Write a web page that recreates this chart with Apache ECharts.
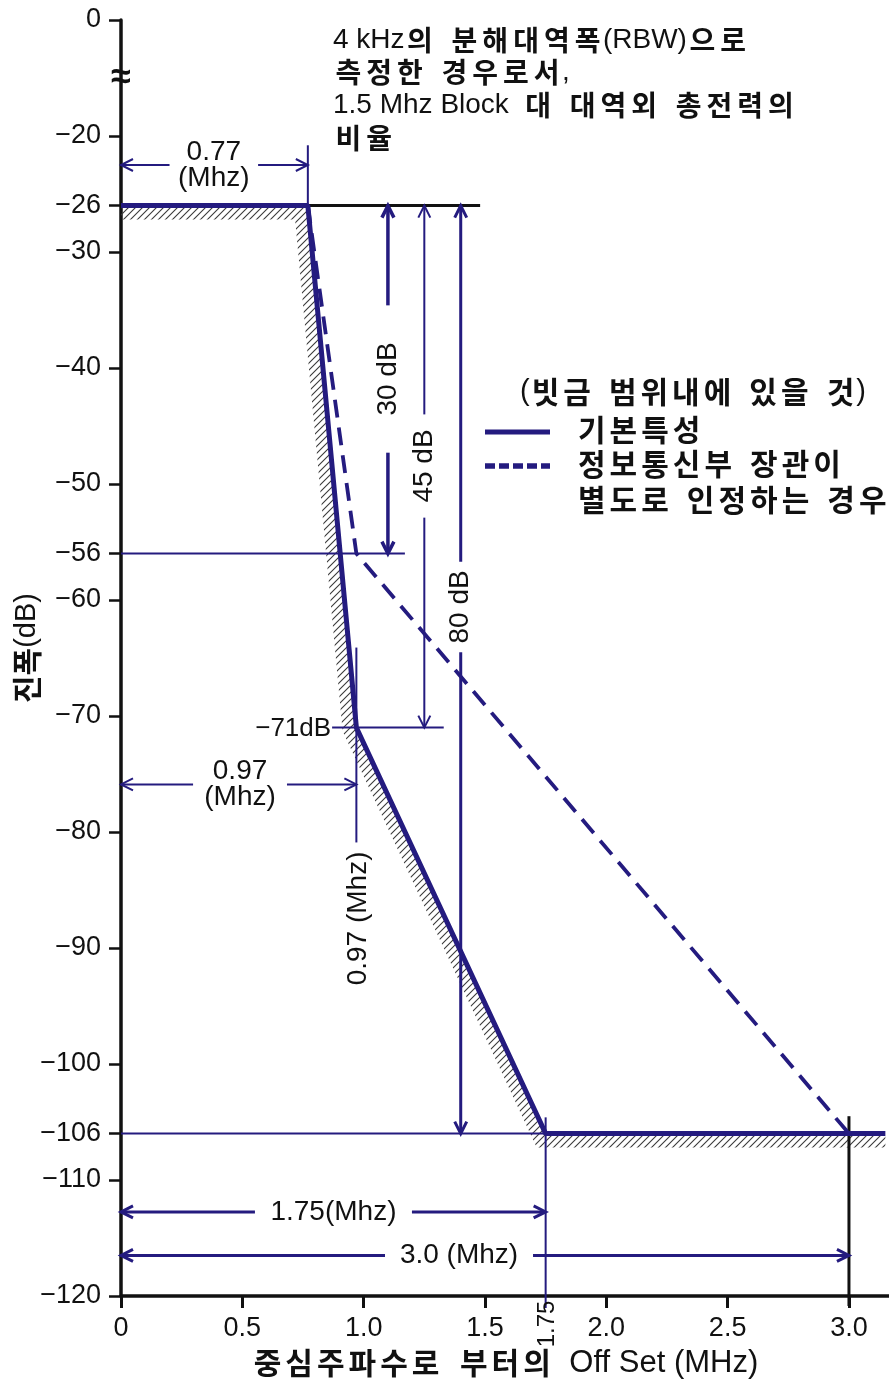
<!DOCTYPE html>
<html>
<head>
<meta charset="utf-8">
<script src="https://cdn.jsdelivr.net/npm/echarts@6/dist/echarts.min.js"></script>
<style>
  html, body { margin: 0; padding: 0; background: #fff; }
  #chart { width: 889px; height: 1388px; }
</style>
</head>
<body>
<div id="chart"></div>
<script>
// Out-of-band emission mask relative to the 1.5 MHz block (RBW 4 kHz)

// Basic characteristic (solid)
const solidX = [0, 0.77, 0.97, 1.75, 3.15];
const solidY = [-26, -26, -71, -106, -106];
// Case approved separately by the ministry (dashed)
const dashX = [0.77, 0.97, 3.0];
const dashY = [-26, -56, -106];

// Axis ticks; the top tick is the 0 dB mark above the axis break
const yTickValues = [-10, -20, -26, -30, -40, -50, -56, -60, -70, -80, -90, -100, -106, -110, -120];
const yTickLabels = ['0', '−20', '−26', '−30', '−40', '−50', '−56', '−60', '−70', '−80', '−90', '−100', '−106', '−110', '−120'];
const xTickValues = [0, 0.5, 1.0, 1.5, 2.0, 2.5, 3.0];
const xTickLabels = ['0', '0.5', '1.0', '1.5', '2.0', '2.5', '3.0'];

// Horizontal dimension arrows: [level dB, from MHz, to MHz, text gap from, text gap to]
const hDims = [
  [-22.5, 0, 0.77, 0.20, 0.565],
  [-75.9, 0, 0.97, 0.297, 0.684],
  [-112.75, 0, 1.75, 0.552, 1.199],
  [-116.5, 0, 3.0, 1.088, 1.698]
];
const hDimText = ['0.77\n(Mhz)', '0.97\n(Mhz)', '1.75(Mhz)', '3.0 (Mhz)'];

// Vertical dimension arrows: [offset MHz, from dB, to dB, text gap from, text gap to]
const vDims = [
  [1.1, -26, -56, -34.6, -47.3],
  [1.25, -26, -71, -44.0, -52.9],
  [1.4, -26, -106, -56.7, -64.5]
];
const vDimText = ['30 dB', '45 dB', '80 dB'];

// Reference lines [x0, y0, x1, y1]
const guideLines = [
  [0.77, -20.8, 0.77, -26],
  [0, -56, 1.17, -56],
  [0.87, -71, 1.33, -71],
  [0.97, -64.1, 0.97, -80.9],
  [0, -106, 1.75, -106],
  [1.75, -104.6, 1.75, -120]
];
const blackLines = [
  [0.77, -26, 1.48, -26],
  [3.0, -104.5, 3.0, -120]
];

// Point notes: text and anchor [MHz, dB]
const noteText = ['−71dB', '0.97 (Mhz)', '1.75', '≈'];
const noteAt = [[0.87, -71], [0.97, -87.45], [1.75, -120], [0, -15]];

const NAVY = '#241b7f';
const INK = '#111111';
const LATIN = 'Liberation Sans, Arial, sans-serif';
const HANGUL = '"Noto Sans CJK KR", "Noto Sans CJK SC", sans-serif';

const hDimWidth = [2, 2, 3, 3];
const vDimWidth = [3.5, 2, 3];

// Diagonal hatch tile
const hatchTile = (function () {
  const s = 7;
  const c = document.createElement('canvas');
  c.width = s; c.height = s;
  const g = c.getContext('2d');
  g.strokeStyle = '#3a3a3a';
  g.lineWidth = 1.1;
  g.beginPath();
  g.moveTo(0, s); g.lineTo(s, 0);
  g.moveTo(-1, 1); g.lineTo(1, -1);
  g.moveTo(s - 1, s + 1); g.lineTo(s + 1, s - 1);
  g.stroke();
  return c;
})();

function arrowHead(tip, dir, len, half) {
  const bx = tip[0] - dir[0] * len, by = tip[1] - dir[1] * len;
  return [[bx - dir[1] * half, by + dir[0] * half], tip, [bx + dir[1] * half, by - dir[0] * half]];
}

// Offset a polyline by d pixels to its lower-left side (mitered joins)
function offsetPolyline(pts, d) {
  const normals = [];
  for (let i = 0; i < pts.length - 1; i++) {
    const dx = pts[i + 1][0] - pts[i][0], dy = pts[i + 1][1] - pts[i][1];
    const l = Math.hypot(dx, dy);
    normals.push([-dy / l, dx / l]);
  }
  return pts.map((p, i) => {
    if (i === 0) return [p[0] + normals[0][0] * d, p[1] + normals[0][1] * d];
    if (i === pts.length - 1) { const n = normals[i - 1]; return [p[0] + n[0] * d, p[1] + n[1] * d]; }
    const n1 = normals[i - 1], n2 = normals[i];
    const k = d / (1 + n1[0] * n2[0] + n1[1] * n2[1]);
    return [p[0] + (n1[0] + n2[0]) * k, p[1] + (n1[1] + n2[1]) * k];
  });
}

// Rich text with roomy Hangul spacing
function richLine(str) {
  let out = '', latin = '';
  const chars = Array.from(str);
  const isK = ch => /[\uac00-\ud7a3]/.test(ch || '');
  const flush = () => { if (latin) { out += '{l|' + latin + '}'; latin = ''; } };
  chars.forEach((ch, i) => {
    if (isK(ch)) { flush(); out += '{k|' + ch + '}'; }
    else if (ch === ' ' && (isK(chars[i - 1]) || isK(chars[i + 1]))) { flush(); out += '{s| }'; }
    else latin += ch;
  });
  flush();
  return out;
}
function richStyles(kSize, kPad, lSize, sPad, lh, colorKey) {
  const ck = colorKey || 'fill';
  const k = { fontFamily: HANGUL, fontWeight: 'bold', fontSize: kSize, padding: [0, kPad], lineHeight: lh, verticalAlign: 'middle' };
  const l = { fontFamily: LATIN, fontSize: lSize, lineHeight: lh, verticalAlign: 'middle' };
  const s = { fontFamily: LATIN, fontSize: lSize, padding: [0, sPad], lineHeight: lh, verticalAlign: 'middle' };
  k[ck] = INK; l[ck] = INK; s[ck] = INK;
  return { k, l, s };
}

const chart = echarts.init(document.getElementById('chart'), null, { renderer: 'canvas', width: 889, height: 1388 });

const topLines = ['4 kHz의 분해대역폭(RBW)으로', '측정한 경우로서,', '1.5 Mhz Block 대 대역외 총전력의', '비율'];
const legendHead = '(빗금 범위내에 있을 것)';
const legendLines = ['기본특성', '정보통신부 장관이', '별도로 인정하는 경우'];
const yTitle = '진폭(dB)';
const xTitle = '중심주파수로 부터의 Off Set (MHz)';

const graphics = [];
topLines.forEach((t, i) => {
  graphics.push({
    type: 'text', left: 333, top: 26 + i * 32.7, z: 10,
    style: { text: richLine(t), rich: richStyles(28, 2.5, 28, 3, 32), fill: INK }
  });
});
graphics.push({
  type: 'text', left: 520, top: 377, z: 10,
  style: { text: richLine(legendHead), rich: richStyles(30, 2, 29, 3, 34), fill: INK }
});
[415, 449, 485].forEach((top, i) => {
  graphics.push({
    type: 'text', left: 576, top: top, z: 10,
    style: { text: richLine(legendLines[i]), rich: richStyles(30, 2, 29, 3, 34), fill: INK }
  });
});
graphics.push({ type: 'line', z: 10, shape: { x1: 485, y1: 432, x2: 550, y2: 432 }, style: { stroke: NAVY, lineWidth: 5 } });
graphics.push({ type: 'line', z: 10, shape: { x1: 485, y1: 466, x2: 550, y2: 466 }, style: { stroke: NAVY, lineWidth: 5.5, lineDash: [10, 4] } });
// y-axis title, reading upwards
graphics.push({
  type: 'text', x: 27, y: 648, rotation: Math.PI / 2, z: 10,
  style: { text: richLine(yTitle), rich: richStyles(30, 0, 29, 4, 34), align: 'center', verticalAlign: 'middle', textAlign: 'center', textVerticalAlign: 'middle', fill: INK }
});

const textBase = { fontFamily: LATIN, fontSize: 28, fill: INK };

const option = {
  animation: false,
  backgroundColor: '#ffffff',
  grid: { left: 121, right: 0, top: 20, bottom: 92, containLabel: false, outerBoundsMode: 'none' },
  xAxis: {
    type: 'value', min: 0, max: 3.165,
    name: richLine(xTitle),
    nameLocation: 'middle', nameGap: 50,
    nameTextStyle: { rich: richStyles(30, 2, 31, 4, 34, 'color') },
    axisLine: { show: true, onZero: false, lineStyle: { color: INK, width: 3.5 } },
    axisTick: { show: true, inside: false, length: 12, customValues: xTickValues, lineStyle: { color: INK, width: 3 } },
    axisLabel: {
      customValues: xTickValues, margin: 19, color: INK, fontFamily: LATIN, fontSize: 27,
      formatter: v => xTickLabels[xTickValues.indexOf(v)] ?? ''
    },
    splitLine: { show: false }
  },
  yAxis: {
    type: 'value', min: -120, max: -10,
    axisLine: { show: true, onZero: false, lineStyle: { color: INK, width: 3.5 } },
    axisTick: { show: true, inside: false, length: 12, customValues: yTickValues, lineStyle: { color: INK, width: 2.5 } },
    axisLabel: {
      customValues: yTickValues, margin: 20, color: INK, fontFamily: LATIN, fontSize: 27,
      formatter: v => yTickLabels[yTickValues.indexOf(v)] ?? ''
    },
    splitLine: { show: false }
  },
  graphic: graphics,
  series: [
    {
      // hatched band along the lower-left side of the basic mask
      type: 'custom', z: 1, silent: true,
      data: [[0, -26]],
      renderItem: function (params, api) {
        const pts = solidX.map((x, i) => api.coord([x, solidY[i]]));
        const off = offsetPolyline(pts, 14).reverse();
        return {
          type: 'polygon',
          shape: { points: pts.concat(off) },
          style: { fill: { image: hatchTile, repeat: 'repeat' }, stroke: null }
        };
      }
    },
    {
      // thin navy guide lines
      type: 'custom', z: 2, silent: true,
      data: guideLines, encode: { x: 0, y: 1 },
      renderItem: function (params, api) {
        const a = api.coord([api.value(0), api.value(1)]);
        const b = api.coord([api.value(2), api.value(3)]);
        if (api.value(3) === -120) b[1] += 12;
        return { type: 'line', shape: { x1: a[0], y1: a[1], x2: b[0], y2: b[1] }, style: { stroke: NAVY, lineWidth: 2 } };
      }
    },
    {
      // black guide lines
      type: 'custom', z: 2, silent: true,
      data: blackLines, encode: { x: 0, y: 1 },
      renderItem: function (params, api) {
        const a = api.coord([api.value(0), api.value(1)]);
        const b = api.coord([api.value(2), api.value(3)]);
        if (api.value(3) === -120) b[1] += 10;
        return { type: 'line', shape: { x1: a[0], y1: a[1], x2: b[0], y2: b[1] }, style: { stroke: INK, lineWidth: 3 } };
      }
    },
    {
      name: '정보통신부 장관이 별도로 인정하는 경우',
      type: 'line', z: 3, symbol: 'none', silent: true,
      data: dashX.map((x, i) => [x, dashY[i]]),
      lineStyle: { color: NAVY, width: 3.8, type: [18, 10] }
    },
    {
      name: '기본특성',
      type: 'line', z: 4, symbol: 'none', silent: true,
      data: solidX.map((x, i) => [x, solidY[i]]),
      lineStyle: { color: NAVY, width: 5 }
    },
    {
      // horizontal dimension arrows
      type: 'custom', z: 5, silent: true,
      data: hDims, encode: { x: 1, y: 0 },
      renderItem: function (params, api) {
        const i = params.dataIndex;
        const y = api.value(0);
        const p0 = api.coord([api.value(1), y]), p1 = api.coord([api.value(2), y]);
        const pa = api.coord([api.value(3), y]), pb = api.coord([api.value(4), y]);
        const st = { stroke: NAVY, lineWidth: hDimWidth[i], fill: null };
        return {
          type: 'group', children: [
            { type: 'line', shape: { x1: p0[0], y1: p0[1], x2: pa[0], y2: pa[1] }, style: st },
            { type: 'line', shape: { x1: pb[0], y1: pb[1], x2: p1[0], y2: p1[1] }, style: st },
            { type: 'polyline', shape: { points: arrowHead(p0, [-1, 0], 12, 6) }, style: st },
            { type: 'polyline', shape: { points: arrowHead(p1, [1, 0], 12, 6) }, style: st },
            {
              type: 'text', x: (pa[0] + pb[0]) / 2, y: p0[1],
              style: Object.assign({ text: hDimText[i], align: 'center', verticalAlign: 'middle', textAlign: 'center', textVerticalAlign: 'middle', lineHeight: 26 }, textBase)
            }
          ]
        };
      }
    },
    {
      // vertical dimension arrows
      type: 'custom', z: 5, silent: true,
      data: vDims, encode: { x: 0, y: 1 },
      renderItem: function (params, api) {
        const i = params.dataIndex;
        const x = api.value(0);
        const p0 = api.coord([x, api.value(1)]), p1 = api.coord([x, api.value(2)]);
        const pa = api.coord([x, api.value(3)]), pb = api.coord([x, api.value(4)]);
        const st = { stroke: NAVY, lineWidth: vDimWidth[i], fill: null };
        return {
          type: 'group', children: [
            { type: 'line', shape: { x1: p0[0], y1: p0[1], x2: pa[0], y2: pa[1] }, style: st },
            { type: 'line', shape: { x1: pb[0], y1: pb[1], x2: p1[0], y2: p1[1] }, style: st },
            { type: 'polyline', shape: { points: arrowHead(p0, [0, -1], 12, 6) }, style: st },
            { type: 'polyline', shape: { points: arrowHead(p1, [0, 1], 12, 6) }, style: st },
            {
              type: 'text', x: p0[0], y: (pa[1] + pb[1]) / 2, rotation: Math.PI / 2,
              style: Object.assign({ text: vDimText[i], align: 'center', verticalAlign: 'middle', textAlign: 'center', textVerticalAlign: 'middle' }, textBase)
            }
          ]
        };
      }
    },
    {
      // point notes
      type: 'custom', z: 6, silent: true,
      data: noteAt, encode: { x: 0, y: 1 },
      renderItem: function (params, api) {
        const i = params.dataIndex;
        const p = api.coord([api.value(0), api.value(1)]);
        const t = noteText[i];
        if (i === 0) {
          return { type: 'text', x: p[0] - 1, y: p[1] + 1, style: Object.assign({}, textBase, { text: t, fontSize: 26, align: 'right', verticalAlign: 'middle', textAlign: 'right', textVerticalAlign: 'middle' }) };
        }
        if (i === 1) {
          return { type: 'text', x: p[0] + 2, y: p[1], rotation: Math.PI / 2, style: Object.assign({}, textBase, { text: t, align: 'center', verticalAlign: 'middle', textAlign: 'center', textVerticalAlign: 'middle' }) };
        }
        if (i === 2) {
          return { type: 'text', x: p[0] + 2, y: p[1] + 28, rotation: Math.PI / 2, style: Object.assign({}, textBase, { text: t, fontSize: 24, align: 'center', verticalAlign: 'middle', textAlign: 'center', textVerticalAlign: 'middle' }) };
        }
        return { type: 'text', x: p[0], y: p[1], style: Object.assign({}, textBase, { text: t, fontSize: 36, fontWeight: 'bold', align: 'center', verticalAlign: 'middle', textAlign: 'center', textVerticalAlign: 'middle' }) };
      }
    }
  ]
};

chart.setOption(option);
</script>
</body>
</html>
